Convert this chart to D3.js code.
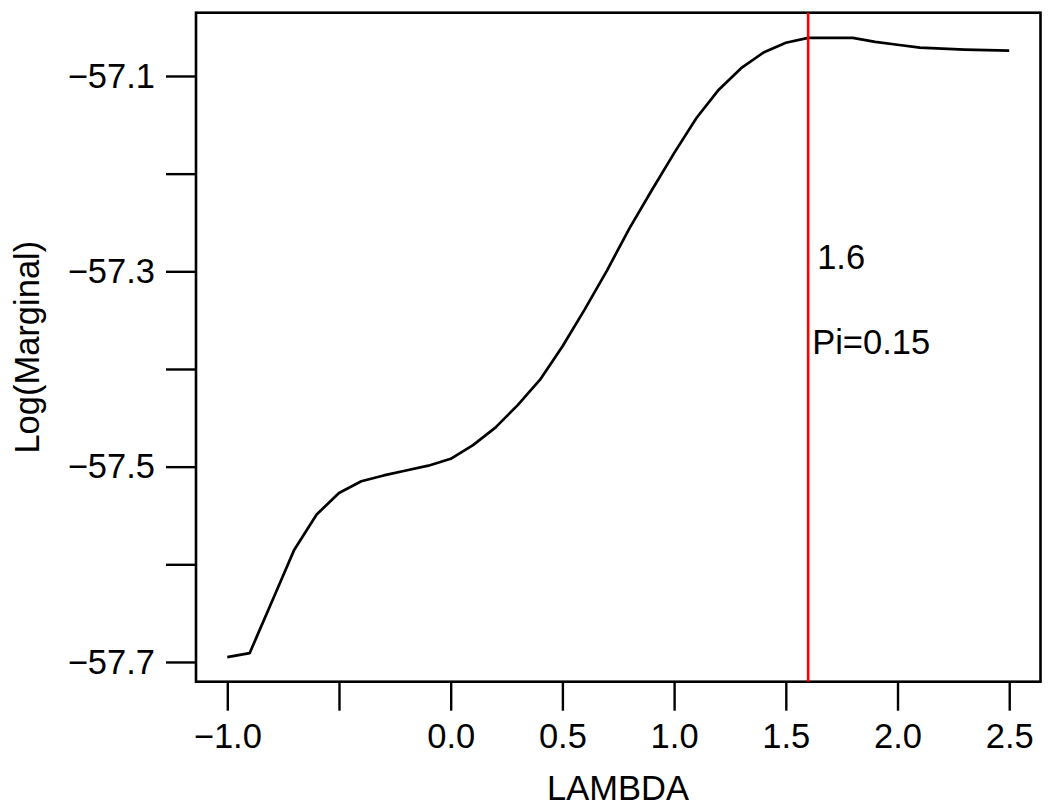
<!DOCTYPE html>
<html>
<head>
<meta charset="utf-8">
<script src="https://cdn.jsdelivr.net/npm/d3@7"></script>
<style>
  body { margin: 0; background: #fff; }
  text { font-family: "Liberation Sans", Arial, sans-serif; fill: #000; }
</style>
</head>
<body>
<div id="canevas"></div>
<script>

////////////////////////////////////////////////////////////////////////////////
//                                  data                                      //
////////////////////////////////////////////////////////////////////////////////

let lambda = [-1.0, -0.9, -0.8, -0.7, -0.6, -0.5, -0.4, -0.3, -0.2, -0.1,
              0.0, 0.1, 0.2, 0.3, 0.4, 0.5, 0.6, 0.7, 0.8, 0.9,
              1.0, 1.1, 1.2, 1.3, 1.4, 1.5, 1.6, 1.7, 1.8, 1.9,
              2.0, 2.1, 2.2, 2.3, 2.4, 2.5];

let logMarginal = [-57.695, -57.691, -57.638, -57.585, -57.549, -57.527, -57.515, -57.509, -57.504, -57.499,
                   -57.492, -57.478, -57.460, -57.437, -57.411, -57.377, -57.339, -57.299, -57.256, -57.217,
                   -57.179, -57.143, -57.114, -57.092, -57.076, -57.066, -57.061, -57.061, -57.061, -57.065,
                   -57.068, -57.071, -57.072, -57.073, -57.0735, -57.074];

let xTicks = [-1.0, -0.5, 0.0, 0.5, 1.0, 1.5, 2.0, 2.5];
let xTickLabels = ["\u22121.0", "", "0.0", "0.5", "1.0", "1.5", "2.0", "2.5"];
let yTicks = [-57.1, -57.2, -57.3, -57.4, -57.5, -57.6, -57.7];
let yTickLabels = ["\u221257.1", "", "\u221257.3", "", "\u221257.5", "", "\u221257.7"];

let best = 1.6;
let notes = ["1.6", "Pi=0.15"];

////////////////////////////////////////////////////////////////////////////////
//                                  canvas                                    //
////////////////////////////////////////////////////////////////////////////////

let largeur = 1050;
let hauteur = 809;
let taille = 34.5; // font size

let canevas = d3.select("#canevas")
  .append("svg")
  .attr("width", largeur)
  .attr("height", hauteur);

canevas.append("rect")
  .attr("width", "100%")
  .attr("height", "100%")
  .attr("fill", "#fff");

// plot region
let gauche = 196, droite = 1040.5, haut = 12.7, bas = 681.7;

let echelleX = d3.scaleLinear()
  .domain([-1.14, 2.64])
  .range([gauche, droite]);

let echelleY = d3.scaleLinear()
  .domain([-57.7202, -57.0352])
  .range([bas, haut]);

////////////////////////////////////////////////////////////////////////////////
//                                  axes                                      //
////////////////////////////////////////////////////////////////////////////////

let axeX = d3.axisBottom(echelleX)
  .tickValues(xTicks)
  .tickSize(29)
  .tickPadding(13)
  .tickFormat((d, i) => xTickLabels[i]);

let gx = canevas.append("g")
  .attr("transform", `translate(0,${bas})`)
  .call(axeX);
gx.select(".domain").remove();
gx.selectAll("line").attr("stroke", "#000").attr("stroke-width", 2.4);
gx.selectAll("text")
  .attr("font-size", taille)
  .attr("font-family", "Liberation Sans, Arial, sans-serif");

let axeY = d3.axisLeft(echelleY)
  .tickValues(yTicks)
  .tickSize(30)
  .tickPadding(11)
  .tickFormat((d, i) => yTickLabels[i]);

let gy = canevas.append("g")
  .attr("transform", `translate(${gauche},0)`)
  .call(axeY);
gy.select(".domain").remove();
gy.selectAll("line").attr("stroke", "#000").attr("stroke-width", 2.4);
gy.selectAll("text")
  .attr("font-size", taille)
  .attr("font-family", "Liberation Sans, Arial, sans-serif");

// box
canevas.append("rect")
  .attr("x", gauche)
  .attr("y", haut)
  .attr("width", droite - gauche)
  .attr("height", bas - haut)
  .attr("fill", "none")
  .attr("stroke", "#000")
  .attr("stroke-width", 2.6);

// axis titles
canevas.append("text")
  .attr("x", 618)
  .attr("y", 800)
  .attr("text-anchor", "middle")
  .attr("font-size", taille)
  .text("LAMBDA");

canevas.append("text")
  .attr("transform", `translate(39,${(haut + bas) / 2}) rotate(-90)`)
  .attr("text-anchor", "middle")
  .attr("font-size", taille)
  .text("Log(Marginal)");

////////////////////////////////////////////////////////////////////////////////
//                                  curve                                     //
////////////////////////////////////////////////////////////////////////////////

let points = lambda.map((l, i) => [l, logMarginal[i]]);

let ligne = d3.line()
  .x(d => echelleX(d[0]))
  .y(d => echelleY(d[1]));

canevas.append("path")
  .datum(points)
  .attr("d", ligne)
  .attr("fill", "none")
  .attr("stroke", "#000")
  .attr("stroke-width", 2.7)
  .attr("stroke-linejoin", "round");

// vertical marker at the maximum
canevas.append("line")
  .attr("x1", echelleX(best))
  .attr("x2", echelleX(best))
  .attr("y1", haut)
  .attr("y2", bas)
  .attr("stroke", "#ff0000")
  .attr("stroke-width", 2.6);

canevas.append("text")
  .attr("x", echelleX(best) + 9)
  .attr("y", 269)
  .attr("font-size", taille)
  .text(notes[0]);

canevas.append("text")
  .attr("x", echelleX(best) + 4)
  .attr("y", 354)
  .attr("font-size", taille)
  .text(notes[1]);

</script>
</body>
</html>
